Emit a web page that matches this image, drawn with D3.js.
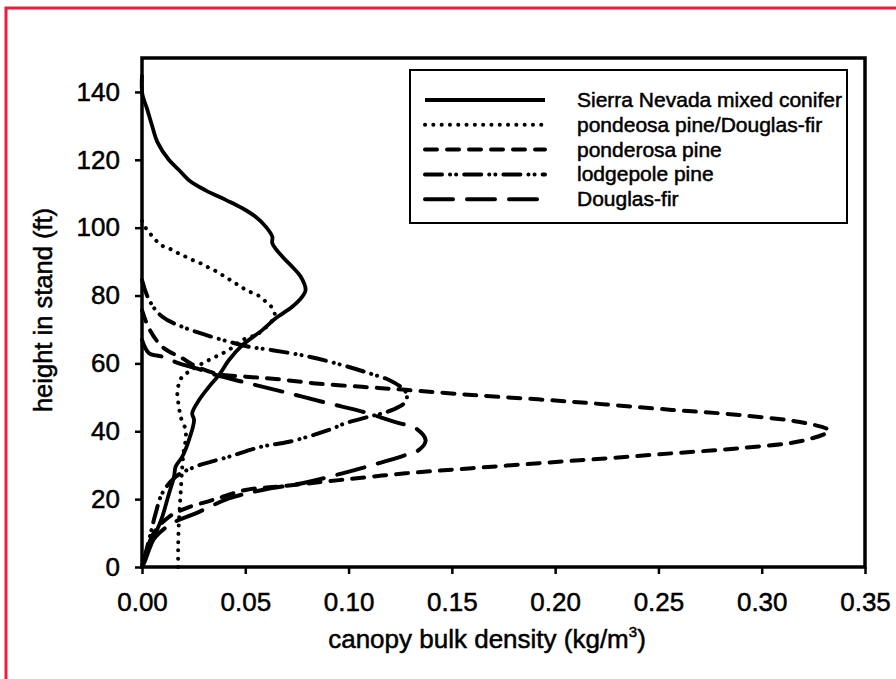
<!DOCTYPE html>
<html>
<head>
<meta charset="utf-8">
<script src="https://cdn.jsdelivr.net/npm/d3@7"></script>
<style>
  body { margin: 0; background: #fff; }
  svg { display: block; font-family: "Liberation Sans", Arial, sans-serif; }
  svg text { stroke: #000; stroke-width: 0.5px; fill: #000; }
</style>
</head>
<body>
<div id="chart"></div>
<script>
// canopy bulk density (kg/m3) vs height in stand (ft)
const sierraMixedConifer = [
  [0, 145], [0.0001, 139.6], [0.0026, 134.7], [0.005, 129.8], [0.0074, 125.3],
  [0.013, 120], [0.0179, 117], [0.0227, 114], [0.0308, 111], [0.0405, 108.2],
  [0.0484, 105.8], [0.055, 103.2], [0.0599, 100.3], [0.0631, 97.3], [0.0631, 95.4],
  [0.0679, 91.5], [0.0727, 88.5], [0.0768, 85.6], [0.0792, 81.6], [0.0776, 79.7],
  [0.0727, 76.7], [0.0647, 73.3], [0.0582, 69.8], [0.0486, 65.4], [0.0421, 61],
  [0.0373, 56.6], [0.0324, 53.1], [0.0276, 49.2], [0.0243, 45.3], [0.0252, 43.3],
  [0.0227, 37.4], [0.0195, 32.5], [0.0163, 29.6], [0.0155, 26.6], [0.0131, 21.7],
  [0.0098, 14.8], [0.0066, 9.9], [0.0034, 5], [0.001, 1.1], [0, 0]
];
const ponderosaDouglasFir = [
  [0, 102], [0.0002, 101.3], [0.0026, 99.3], [0.0058, 96.9], [0.0091, 94.9],
  [0.0131, 93.9], [0.0171, 92.6], [0.0203, 91.7], [0.0243, 90.5], [0.0284, 89.5],
  [0.0324, 88.2], [0.0364, 87], [0.0405, 85.4], [0.0445, 83.9], [0.0486, 82.3],
  [0.0526, 81], [0.0566, 79.9], [0.0599, 78.2], [0.0631, 76.3], [0.0642, 74],
  [0.0566, 68.9], [0.0486, 66.9], [0.0421, 64], [0.0357, 62], [0.0292, 60],
  [0.0228, 57.6], [0.0195, 56.1], [0.0179, 54.1], [0.0171, 51.2], [0.0179, 47.2],
  [0.0187, 44.3], [0.0211, 40.4], [0.0211, 37.4], [0.0203, 34.5], [0.0195, 29.6],
  [0.0187, 21.7], [0.0179, 13.9], [0.0175, 6], [0.0175, 0]
];
const ponderosaPine = [
  [0, 75.7], [0.0034, 70.3], [0.0098, 64.9], [0.0195, 61.5], [0.026, 59.2],
  [0.0373, 56.8], [0.0502, 56.1], [0.0647, 55.4], [0.0841, 54.1], [0.1066, 53.1],
  [0.1276, 52.2], [0.1597, 50.7], [0.2081, 48.7], [0.2565, 46.3], [0.289, 44.8],
  [0.3213, 42.4], [0.3325, 40.2], [0.3213, 37.4], [0.289, 35], [0.2565, 33.5],
  [0.2244, 32], [0.1922, 30.6], [0.1597, 29.1], [0.1276, 27.6], [0.0954, 25.6],
  [0.0663, 23.7], [0.0502, 22.7], [0.034, 19.7], [0.0212, 17.3], [0.0131, 14.8],
  [0.0066, 10.9], [0.0034, 7], [0.001, 2.1], [0, 0]
];
const lodgepolePine = [
  [0, 84.6], [0.0034, 78.7], [0.0097, 73.8], [0.0194, 70.8], [0.0308, 68.4],
  [0.0421, 66.4], [0.0518, 64.9], [0.0631, 63.9], [0.0808, 62], [0.097, 59.5],
  [0.1099, 57.1], [0.1196, 55.1], [0.126, 52.7], [0.1283, 50.7], [0.1268, 48.2],
  [0.1212, 46.3], [0.1163, 45.3], [0.1099, 44.3], [0.0986, 42.4], [0.0905, 40.4],
  [0.0712, 36.9], [0.0582, 35.5], [0.0421, 32.5], [0.026, 29.6], [0.0163, 26.6],
  [0.0098, 21.7], [0.0066, 15.8], [0.0034, 8], [0, 0]
];
const douglasFir = [
  [0, 66.9], [0.0034, 63], [0.0098, 62], [0.0179, 60], [0.026, 58.6],
  [0.0357, 56.6], [0.0518, 54.1], [0.0712, 51.2], [0.0905, 48.2], [0.1066, 45.8],
  [0.1196, 43.3], [0.1244, 42.4], [0.1325, 40.9], [0.1373, 37.4], [0.1341, 34.5],
  [0.1276, 33], [0.1147, 30.6], [0.097, 27.6], [0.0776, 24.7], [0.0582, 22.7],
  [0.0421, 20.2], [0.026, 15.8], [0.0147, 12.9], [0.0066, 8.9], [0.0018, 4], [0, 0]
];

const seriesNames = [
  "Sierra Nevada mixed conifer",
  "pondeosa pine/Douglas-fir",
  "ponderosa pine",
  "lodgepole pine",
  "Douglas-fir"
];
const seriesValues = [sierraMixedConifer, ponderosaDouglasFir, ponderosaPine, lodgepolePine, douglasFir];
const xTicks = [0, 0.05, 0.10, 0.15, 0.20, 0.25, 0.30, 0.35];
const yTicks = [0, 20, 40, 60, 80, 100, 120, 140];

const width = 896;
const height = 679;

// line styles, same order as the series
const styles = [
  { dash: null, w: 3.8 },
  { dash: "0.1 8.2", w: 4 },
  { dash: "12 10", w: 4 },
  { dash: "17 8 0.1 6 0.1 8", w: 4 },
  { dash: "28 14", w: 4 }
];

const svg = d3.select("#chart").append("svg")
  .attr("width", width)
  .attr("height", height);

// red outer frame of the scanned page
svg.append("rect")
  .attr("x", 6).attr("y", 8)
  .attr("width", 1000).attr("height", 800)
  .attr("fill", "none")
  .attr("stroke", "#ec1c3c")
  .attr("stroke-width", 3);

const x = d3.scaleLinear().domain([0, 0.35]).range([142, 865]);
const y = d3.scaleLinear().domain([0, 150]).range([567, 58]);

const line = d3.line()
  .x(d => x(d[0]))
  .y(d => y(d[1]))
  .curve(d3.curveCatmullRom.alpha(0.5));

const plot = svg.append("g");

plot.selectAll(".series")
  .data(seriesValues)
  .enter().append("path")
  .attr("class", "series")
  .attr("d", d => line(d))
  .attr("fill", "none")
  .attr("stroke", "#000")
  .attr("stroke-width", (d, i) => styles[i].w)
  .attr("stroke-dasharray", (d, i) => styles[i].dash)
  .attr("stroke-linecap", (d, i) => styles[i].dash ? "round" : "butt")
  .attr("stroke-linejoin", "round");

// plot frame
plot.append("rect")
  .attr("x", x(0)).attr("y", y(150))
  .attr("width", x(0.35) - x(0)).attr("height", y(0) - y(150))
  .attr("fill", "none")
  .attr("stroke", "#000")
  .attr("stroke-width", 3.5);

const xAxis = svg.append("g")
  .attr("transform", `translate(0,${y(0)})`)
  .call(d3.axisBottom(x).tickValues(xTicks).tickFormat(d3.format(".2f")).tickSize(7).tickPadding(19));
const yAxis = svg.append("g")
  .attr("transform", `translate(${x(0)},0)`)
  .call(d3.axisLeft(y).tickValues(yTicks).tickSize(7).tickPadding(15));

[xAxis, yAxis].forEach(a => {
  a.select(".domain").remove();
  a.selectAll(".tick line").attr("stroke", "#000").attr("stroke-width", 2.5);
  a.selectAll(".tick text")
    .attr("fill", "#000")
    .style("font-family", "'Liberation Sans', Arial, sans-serif")
    .style("font-size", "26px");
});

// axis titles
svg.append("text")
  .attr("transform", "translate(52,310) rotate(-90)")
  .attr("text-anchor", "middle")
  .style("font-size", "25.5px")
  .text("height in stand (ft)");

const xTitle = svg.append("text")
  .attr("x", 487).attr("y", 648)
  .attr("text-anchor", "middle")
  .style("font-size", "26px");
xTitle.append("tspan").text("canopy bulk density (kg/m");
xTitle.append("tspan").attr("dy", -11).style("font-size", "15px").text("3");
xTitle.append("tspan").attr("dy", 11).text(")");

// legend
const legend = svg.append("g");
legend.append("rect")
  .attr("x", 410).attr("y", 70)
  .attr("width", 437).attr("height", 153)
  .attr("fill", "#fff")
  .attr("stroke", "#000")
  .attr("stroke-width", 2);

const rows = legend.selectAll(".row")
  .data(seriesNames)
  .enter().append("g")
  .attr("class", "row")
  .attr("transform", (d, i) => `translate(0,${100 + i * 24.8})`);

rows.append("line")
  .attr("x1", 425).attr("x2", 545)
  .attr("stroke", "#000")
  .attr("stroke-width", (d, i) => styles[i].w)
  .attr("stroke-dasharray", (d, i) => styles[i].dash)
  .attr("stroke-linecap", (d, i) => styles[i].dash ? "round" : "butt");

rows.append("text")
  .attr("x", 577).attr("y", 7)
  .style("font-size", "21px")
  .text(d => d);
</script>
</body>
</html>
